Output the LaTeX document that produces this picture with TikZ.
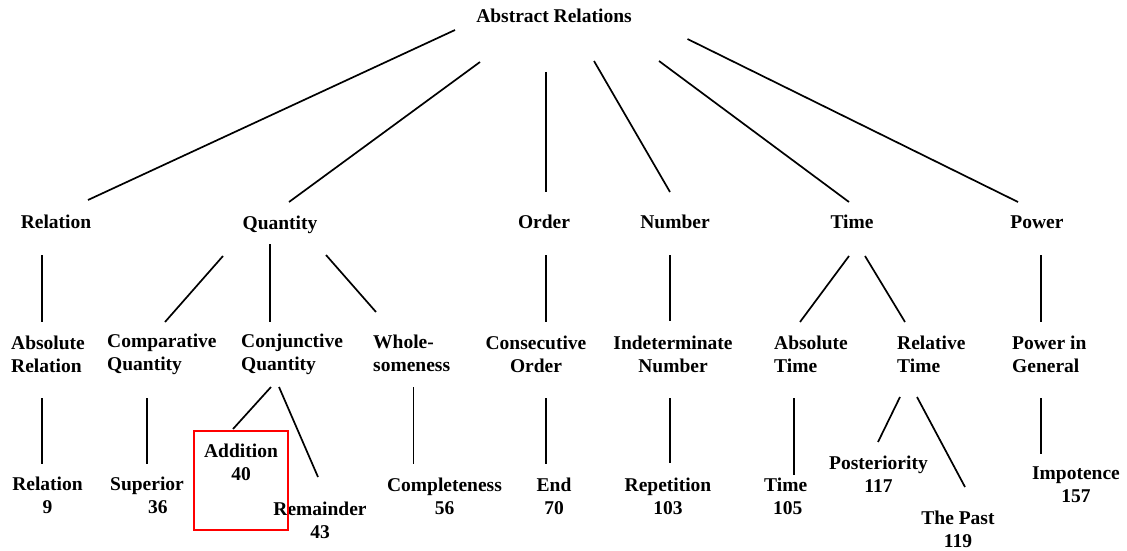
\documentclass[tikz,border=0pt]{standalone}
\usepackage{fontspec}
\setmainfont{Liberation Serif}
\begin{document}
\begin{tikzpicture}[x=1pt,y=-1pt,
  lbl/.style={font=\fontsize{19.5}{23}\selectfont\bfseries, inner sep=0pt},
  lft/.style={lbl, align=left, anchor=west},
  ctr/.style={lbl, align=center, anchor=center},
  edge/.style={line width=1.7pt, line cap=butt},
  mark box/.style={draw=red, line width=2pt}]
\useasboundingbox (0,0) rectangle (1127,551);

% root
\node[ctr] (top) at (554,16) {Abstract Relations};

% first level
\node[ctr] (rel) at (56,222)   {Relation};
\node[ctr] (qua) at (280,225)  {Quantity};
\node[ctr] (ord) at (544,222)  {Order};
\node[ctr] (num) at (675,222)  {Number};
\node[ctr] (tim) at (852,222)  {Time};
\node[ctr] (pow) at (1037,222) {Power};

% second level
\node[lft] (absrel)  at (11,354)   {Absolute\\Relation};
\node[lft] (compq)   at (107,354)  {Comparative\\Quantity};
\node[lft] (conjq)   at (241,354)  {Conjunctive\\Quantity};
\node[lft] (whole)   at (373,353)  {Whole-\\someness};
\node[ctr] (consec)  at (536,354)  {Consecutive\\Order};
\node[ctr] (indet)   at (673,354)  {Indeterminate\\Number};
\node[lft] (abstime) at (774,354)  {Absolute\\Time};
\node[lft] (reltime) at (897,354)  {Relative\\Time};
\node[lft] (powgen)  at (1012,354) {Power in\\General};

% third level
\node[ctr] (r9)      at (47.5,495)  {Relation\\9};
\node[lft] (sup36)   at (110,495)   {Superior\\\hspace*{38pt}36};
\node[ctr] (add40)   at (241,462)   {Addition\\40};
\node[ctr] (rem43)   at (320,520)   {Remainder\\43};
\node[ctr] (comp56)  at (444.5,496) {Completeness\\56};
\node[ctr] (end70)   at (554,496)   {End\\70};
\node[ctr] (rep103)  at (668,496)   {Repetition\\103};
\node[lft] (t105)    at (764,496)   {Time\\\hspace*{9pt}105};
\node[ctr] (post117) at (878.5,474) {Posteriority\\117};
\node[ctr] (past119) at (958,529)   {The Past\\119};
\node[ctr] (imp157)  at (1076,485)  {Impotence\\157};

% highlight frame
\draw[mark box] (194,431) rectangle (288,530);

% root to first level
\draw[edge] ([shift={(-99,14)}]top.center)   -- ([shift={(32,-22)}]rel.center);
\draw[edge] ([shift={(-74,46)}]top.center)   -- ([shift={(9,-23)}]qua.center);
\draw[edge] ([shift={(-8,56)}]top.center)    -- ([shift={(2,-30)}]ord.center);
\draw[edge] ([shift={(40,45)}]top.center)    -- ([shift={(-5,-30)}]num.center);
\draw[edge] ([shift={(105,45)}]top.center)   -- ([shift={(-3,-20)}]tim.center);
\draw[edge] ([shift={(133.5,23)}]top.center) -- ([shift={(-19,-20)}]pow.center);

% first to second level
\draw[edge] ([shift={(-14,33)}]rel.center) -- ([shift={(31,-32)}]absrel.west);
\draw[edge] ([shift={(-57,31)}]qua.center) -- ([shift={(58,-32)}]compq.west);
\draw[edge] ([shift={(-10,19)}]qua.center) -- ([shift={(29,-32)}]conjq.west);
\draw[edge] ([shift={(46,30)}]qua.center)  -- ([shift={(3,-41)}]whole.west);
\draw[edge] ([shift={(2,33)}]ord.center)   -- ([shift={(10,-32)}]consec.center);
\draw[edge] ([shift={(-5,33)}]num.center)  -- ([shift={(-3,-33)}]indet.center);
\draw[edge] ([shift={(-3,34)}]tim.center)  -- ([shift={(26,-32)}]abstime.west);
\draw[edge] ([shift={(13,34)}]tim.center)  -- ([shift={(8,-32)}]reltime.west);
\draw[edge] ([shift={(4,33)}]pow.center)   -- ([shift={(29,-32)}]powgen.west);

% second to third level
\draw[edge] ([shift={(31,44)}]absrel.west)  -- ([shift={(-5.5,-31)}]r9.center);
\draw[edge] ([shift={(40,44)}]compq.west)   -- ([shift={(37,-31)}]sup36.west);
\draw[edge] ([shift={(30,33)}]conjq.west)   -- ([shift={(-8,-33)}]add40.center);
\draw[edge] ([shift={(38,33)}]conjq.west)   -- ([shift={(-2,-43)}]rem43.center);
\draw[edge] ([shift={(40.5,34)}]whole.west) -- ([shift={(-31,-32)}]comp56.center);
\draw[edge] ([shift={(10,44)}]consec.center) -- ([shift={(-8,-32)}]end70.center);
\draw[edge] ([shift={(-3,44)}]indet.center) -- ([shift={(2,-33)}]rep103.center);
\draw[edge] ([shift={(20,44)}]abstime.west) -- ([shift={(30,-21)}]t105.west);
\draw[edge] ([shift={(3,43)}]reltime.west)  -- ([shift={(-0.5,-32)}]post117.center);
\draw[edge] ([shift={(20,43)}]reltime.west) -- ([shift={(7,-42)}]past119.center);
\draw[edge] ([shift={(29,44)}]powgen.west)  -- ([shift={(-35,-31)}]imp157.center);
\end{tikzpicture}
\end{document}
